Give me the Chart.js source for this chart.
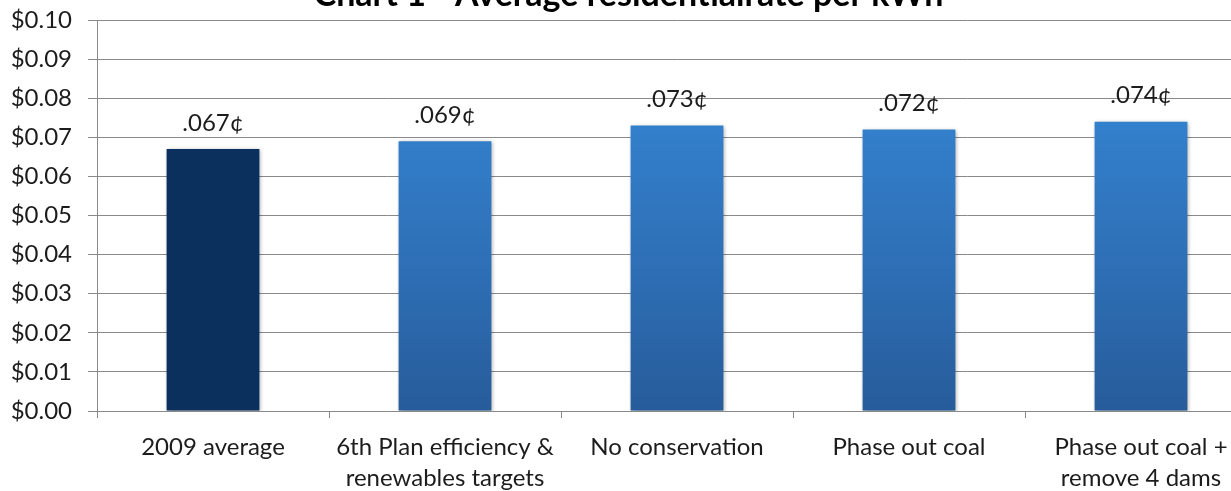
<!DOCTYPE html>
<html>
<head>
<meta charset="utf-8">
<script src="https://cdn.jsdelivr.net/npm/chart.js@4.4.0/dist/chart.umd.min.js"></script>
<style>
  html, body { margin: 0; padding: 0; background: #fff; overflow: hidden; }
  body { width: 1231px; height: 491px; position: relative; }
  #wrap { position: absolute; left: 0; top: -30px; }
</style>
</head>
<body>
<div id="wrap"><canvas id="rateChart" width="1262" height="538"></canvas></div>
<script>
// 各情景下的平均居民电价（$/kWh）
const categories = [
  '2009 average',
  ['6th Plan efficiency &', 'renewables targets'],
  'No conservation',
  'Phase out coal',
  ['Phase out coal +', 'remove 4 dams']
];
const rates = [0.067, 0.069, 0.073, 0.072, 0.074];
const yTicks = [0, 0.01, 0.02, 0.03, 0.04, 0.05, 0.06, 0.07, 0.08, 0.09, 0.10];
const chartTitle = 'Chart 1 - Average residentialrate per kWh';

const FONT = 'Lato, "Open Sans", sans-serif';
const GRID = '#8a8a8a';
const TEXT = '#1c1c1c';

// 柱子渐变：第一根为深蓝实色，其余为上浅下深的蓝色
function barColor(ctx) {
  const chart = ctx.chart;
  if (ctx.dataIndex === 0) return '#0b305e';
  const area = chart.chartArea;
  if (!area) return '#2f74bd';
  const y = chart.scales.y;
  const g = chart.ctx.createLinearGradient(0, y.getPixelForValue(0.074), 0, y.getPixelForValue(0));
  g.addColorStop(0, '#3380cc');
  g.addColorStop(0.5, '#2e6fb6');
  g.addColorStop(1, '#275c9a');
  return g;
}

// 柱子阴影
const barShadow = {
  id: 'barShadow',
  beforeDatasetsDraw(chart) {
    const c = chart.ctx;
    c.save();
    c.shadowColor = 'rgba(0,0,0,0.35)';
    c.shadowBlur = 4;
    c.shadowOffsetX = 1;
    c.shadowOffsetY = 1;
  },
  afterDatasetsDraw(chart) {
    chart.ctx.restore();
  }
};

// 柱顶数值标签，如 .067¢
const valueLabels = {
  id: 'valueLabels',
  afterDatasetsDraw(chart) {
    const c = chart.ctx;
    const meta = chart.getDatasetMeta(0);
    c.save();
    c.font = '24px ' + FONT;
    c.fillStyle = TEXT;
    c.textAlign = 'center';
    c.textBaseline = 'middle';
    meta.data.forEach((bar, i) => {
      const txt = rates[i].toFixed(3).replace(/^0/, '') + '\u00a2';
      c.fillText(txt, bar.x, bar.y - 26);
    });
    c.restore();
  }
};

new Chart(document.getElementById('rateChart'), {
  type: 'bar',
  data: {
    labels: categories,
    datasets: [{
      data: rates,
      backgroundColor: barColor,
      borderWidth: 0,
      barPercentage: 0.4,
      categoryPercentage: 1.0
    }]
  },
  options: {
    responsive: false,
    animation: false,
    devicePixelRatio: 1,
    layout: { padding: { left: 0, right: 5, top: 0, bottom: 0 } },
    plugins: {
      legend: { display: false },
      tooltip: { enabled: false },
      title: {
        display: true,
        text: chartTitle,
        color: '#000',
        font: { family: FONT, size: 34, weight: 'bold', lineHeight: 1.2 },
        padding: { top: 5, bottom: 4.2 }
      }
    },
    scales: {
      x: {
        grid: {
          display: true,
          drawOnChartArea: false,
          drawTicks: true,
          tickLength: 7,
          color: GRID,
          offset: true
        },
        border: { display: true, color: GRID, width: 1 },
        ticks: {
          color: TEXT,
          padding: 14,
          maxRotation: 0,
          autoSkip: false,
          font: { family: FONT, size: 24, lineHeight: 1.29 }
        }
      },
      y: {
        min: 0,
        max: 0.10,
        afterBuildTicks(scale) {
          scale.ticks = yTicks.map(v => ({ value: v }));
        },
        afterFit(scale) {
          scale.width = 97;
        },
        grid: {
          color: GRID,
          lineWidth: 1,
          drawTicks: true,
          tickLength: 9
        },
        border: { display: true, color: GRID, width: 1 },
        ticks: {
          color: TEXT,
          padding: 16,
          font: { family: FONT, size: 24 },
          callback: v => '$' + Number(v).toFixed(2)
        }
      }
    }
  },
  plugins: [barShadow, valueLabels]
});
</script>
</body>
</html>
